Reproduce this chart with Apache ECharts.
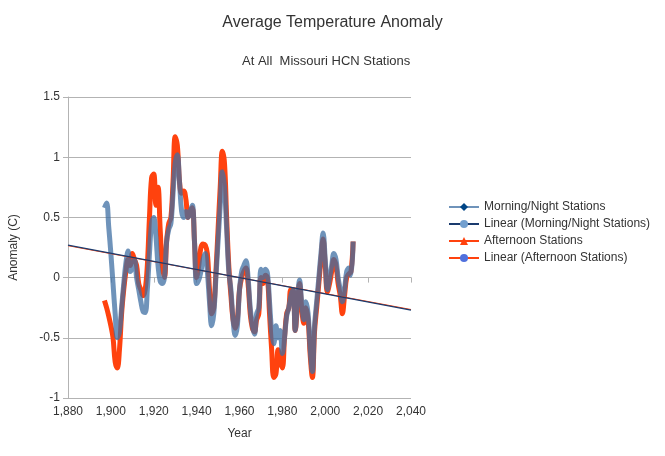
<!DOCTYPE html>
<html><head><meta charset="utf-8">
<script src="https://cdn.jsdelivr.net/npm/echarts@6/dist/echarts.min.js"></script>
<style>html,body{margin:0;padding:0;background:#fff}#c{width:665px;height:456px}</style>
</head><body><div id="c"></div>
<script>
const startYear = 1897;
const morningNight = [
  0.58, 0.62, 0.42, 0.2, -0.05, -0.3, -0.5, -0.45, -0.25, -0.05,
  0.12, 0.22, 0.05, 0.08, 0.15, 0.0, -0.1, -0.2, -0.28, -0.29,
  -0.1, 0.2, 0.45, 0.5, 0.35, 0.1, -0.03, -0.05, 0.0, 0.3,
  0.4, 0.45, 0.7, 0.95, 1.02, 0.8, 0.55, 0.5, 0.55, 0.5,
  0.55, 0.6, 0.3, -0.05, -0.02, 0.05, 0.15, 0.2, 0.05, -0.2,
  -0.4, -0.3, 0.0, 0.3, 0.6, 0.88, 0.75, 0.4, 0.05, -0.1,
  -0.35, -0.48, -0.4, -0.1, 0.05, 0.1, 0.14, 0.0, -0.25, -0.4,
  -0.47, -0.3, -0.25, 0.07, 0.0, 0.07, 0.04, -0.2, -0.45, -0.55,
  -0.4, -0.5, -0.44, -0.63, -0.5, -0.32, -0.25, -0.15, -0.1, -0.44,
  -0.2, -0.02, -0.2, -0.35, -0.2, -0.3, -0.6, -0.78, -0.4, -0.2,
  0.0, 0.2, 0.37, 0.15, -0.1, 0.0, 0.1, 0.2, 0.15, 0.0,
  -0.1, -0.2, -0.1, 0.05, 0.08, 0.02, 0.3
];
const afternoon = [
  -0.19, -0.25, -0.32, -0.4, -0.5, -0.7, -0.75, -0.6, -0.3, -0.1,
  0.05, 0.15, 0.1, 0.2, 0.15, 0.1, -0.05, -0.1, -0.15, -0.1,
  0.1, 0.5, 0.83, 0.86, 0.6, 0.75, 0.4, 0.1, 0.0, 0.3,
  0.45, 0.5, 0.8, 1.17, 1.1, 0.8, 0.7, 0.72, 0.65, 0.5,
  0.55, 0.58, 0.3, 0.0, 0.1, 0.25, 0.28, 0.27, 0.2, -0.1,
  -0.3, -0.25, 0.05, 0.4, 0.75, 1.05, 0.95, 0.5, 0.1, -0.15,
  -0.35, -0.42, -0.35, -0.1, 0.0, 0.05, 0.08, -0.05, -0.3, -0.42,
  -0.45, -0.35, -0.3, 0.0, -0.05, 0.02, 0.0, -0.3, -0.6, -0.83,
  -0.8, -0.6, -0.7, -0.75, -0.5, -0.3, -0.25, -0.1, -0.1, -0.44,
  -0.25, -0.05, -0.25, -0.38, -0.25, -0.35, -0.65, -0.83, -0.45, -0.25,
  -0.05, 0.15, 0.32, 0.1, -0.12, -0.05, 0.05, 0.15, 0.1, -0.05,
  -0.15, -0.3, -0.15, 0.0, 0.03, 0.05, 0.3
];
const trendYears = [1880, 2040];
const trendMorning = [0.27, -0.27];
const trendAfternoon = [0.265, -0.265];
const xTicks = { min: 1880, max: 2040, interval: 20 };
const yTicks = { min: -1, max: 1.5, interval: 0.5 };

const toPairs = (arr) => arr.map((v, i) => [startYear + i, v]);
const chart = echarts.init(document.getElementById('c'));
const font = 'Liberation Sans';
chart.setOption({
  animation: false,
  textStyle: { fontFamily: font },
  title: [
    { text: 'Average Temperature Anomaly', left: 'center', top: 10, textStyle: { fontSize: 16, fontWeight: 'normal', color: '#333' } },
    { text: 'At All  Missouri HCN Stations', left: 237, top: 50, textStyle: { fontSize: 13, fontWeight: 'normal', color: '#333' } }
  ],
  grid: { left: 67, right: 254, top: 97, bottom: 58 },
  legend: {
    orient: 'vertical', left: 443, top: 196, itemGap: 5, itemWidth: 30, itemHeight: 10,
    textStyle: { fontSize: 12, color: '#333' },
    data: ['Morning/Night Stations', 'Linear (Morning/Night Stations)', 'Afternoon Stations', 'Linear (Afternoon Stations)']
  },
  xAxis: {
    type: 'value', min: xTicks.min, max: xTicks.max, interval: xTicks.interval,
    name: 'Year', nameLocation: 'middle', nameGap: 30, nameTextStyle: { fontSize: 12, color: '#333' },
    axisLine: { lineStyle: { color: '#b3b3b3' } }, axisTick: { show: true, inside: false, lineStyle: { color: '#b3b3b3' } },
    axisLabel: { color: '#333', fontSize: 12 }, splitLine: { show: false }
  },
  yAxis: {
    type: 'value', min: yTicks.min, max: yTicks.max, interval: yTicks.interval,
    name: 'Anomaly (C)', nameLocation: 'middle', nameGap: 48, nameTextStyle: { fontSize: 12, color: '#333' },
    axisLine: { show: true, lineStyle: { color: '#b3b3b3' } }, axisTick: { show: true, lineStyle: { color: '#b3b3b3' } },
    axisLabel: { color: '#333', fontSize: 12 }, splitLine: { lineStyle: { color: '#b3b3b3' } }
  },
  series: [
    { name: 'Afternoon Stations', type: 'line', data: toPairs(afternoon), smooth: 0.4, symbol: 'triangle', symbolSize: 9, showSymbol: false,
      itemStyle: { color: '#ff420e' }, lineStyle: { width: 5, color: '#ff420e' }, z: 2 },
    { name: 'Morning/Night Stations', type: 'line', data: toPairs(morningNight), smooth: 0.4, symbol: 'diamond', symbolSize: 9, showSymbol: false,
      itemStyle: { color: '#004586' }, lineStyle: { width: 5, color: '#3f6fa3', opacity: 0.75 }, z: 3 },
    { name: 'Linear (Afternoon Stations)', type: 'line', data: trendYears.map((y, i) => [y, trendAfternoon[i]]), symbol: 'none',
      lineStyle: { width: 1, color: '#ff420e' }, z: 4 },
    { name: 'Linear (Morning/Night Stations)', type: 'line', data: trendYears.map((y, i) => [y, trendMorning[i]]), symbol: 'none',
      itemStyle: { color: '#729fcf' }, lineStyle: { width: 1.2, color: '#1a3b6e' }, z: 5 }
  ]
});
</script></body></html>
